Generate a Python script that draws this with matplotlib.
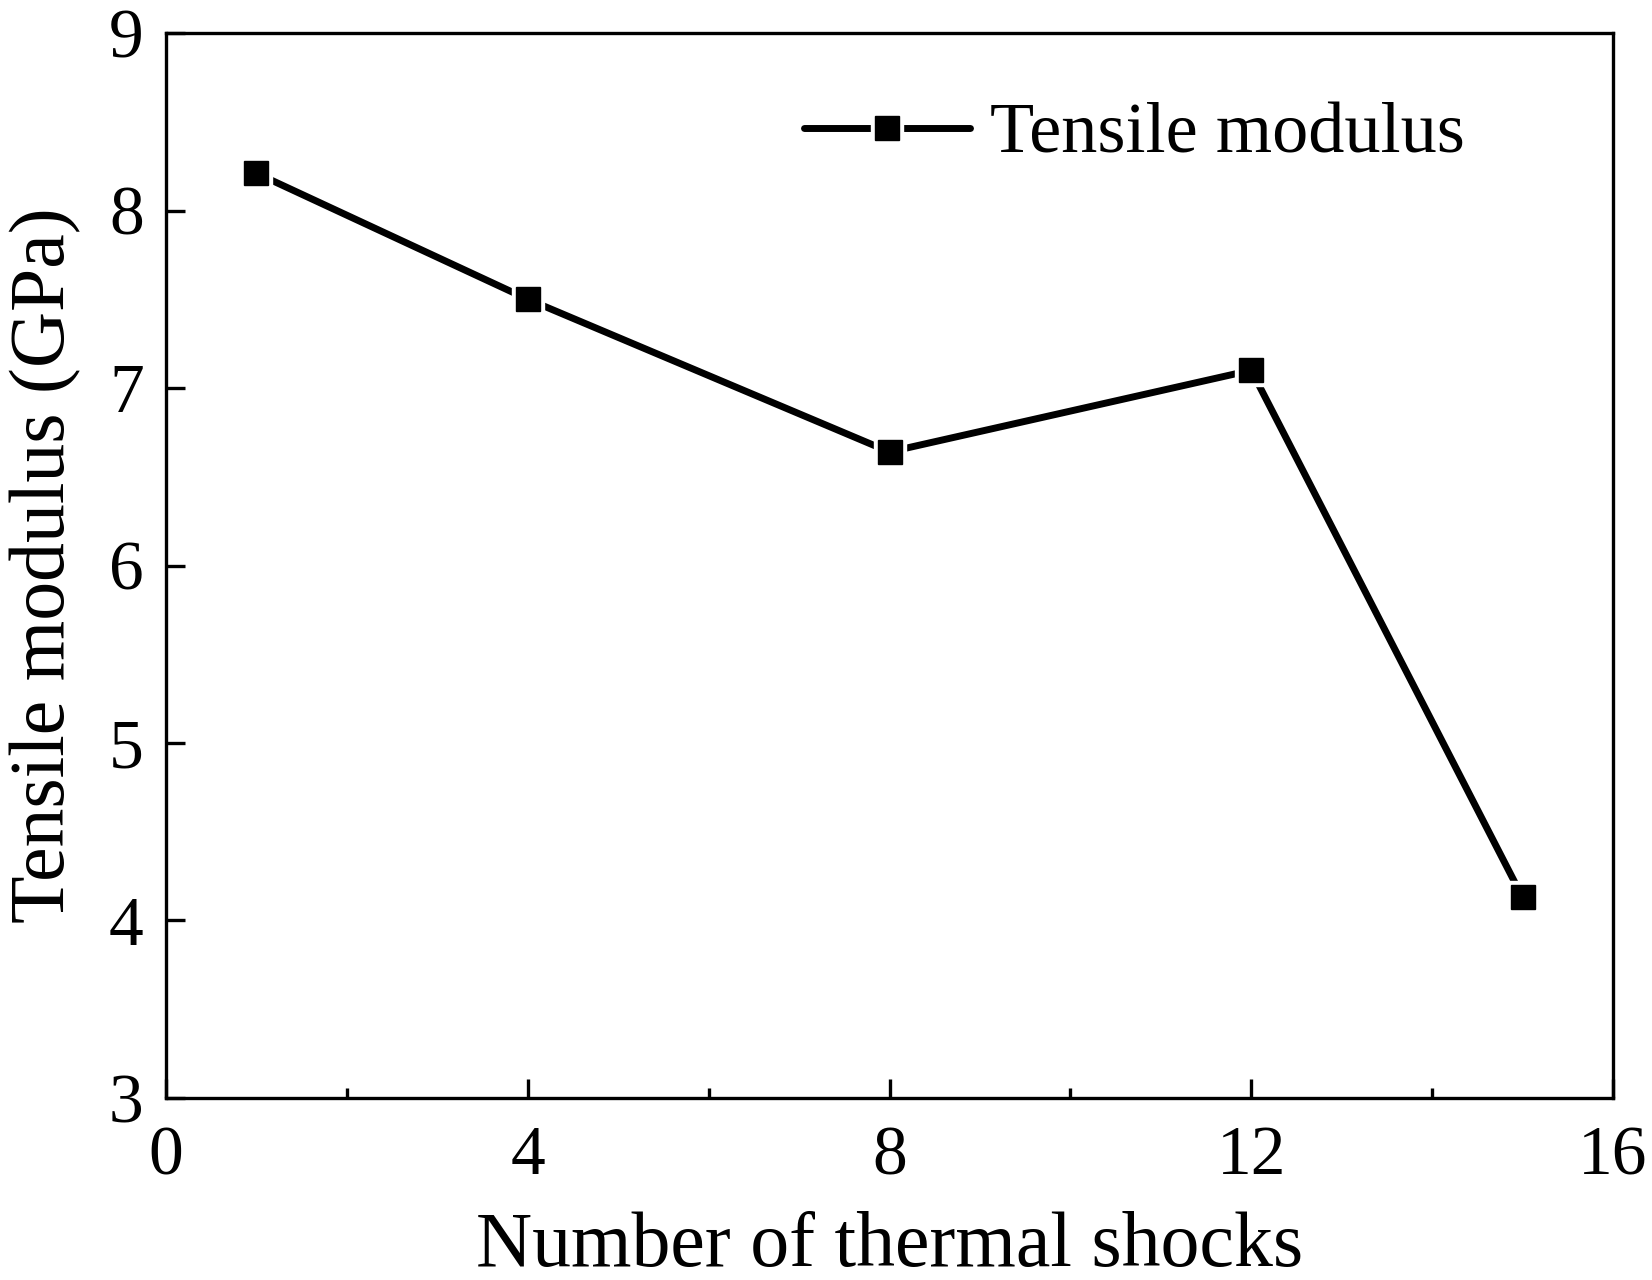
import matplotlib
matplotlib.use("Agg")
import matplotlib.pyplot as plt
from matplotlib.legend_handler import HandlerTuple
from matplotlib.ticker import MultipleLocator

shocks = [1, 4, 8, 12, 15]
modulus = [8.21, 7.50, 6.64, 7.10, 4.13]
series_label = "Tensile modulus"
xlabel = "Number of thermal shocks"
ylabel = "Tensile modulus (GPa)"

plt.rcParams['font.family'] = ['Liberation Serif', 'DejaVu Serif']
plt.rcParams['mathtext.fontset'] = 'stix'

fig = plt.figure(figsize=(16.52, 12.8), dpi=100)
ax = fig.add_axes([0.1005, 0.1422, 0.8759, 0.832])

ln, = ax.plot(shocks, modulus, color='black', lw=5, solid_capstyle='round', zorder=2)
wm, = ax.plot(shocks, modulus, ls='none', marker='s', ms=23, mfc='white', mec='white', zorder=3)
bm, = ax.plot(shocks, modulus, ls='none', marker='s', ms=17, mfc='black', mec='black', zorder=4)

ax.set_xlim(0, 16)
ax.set_ylim(3, 9)
ax.xaxis.set_major_locator(MultipleLocator(4))
ax.xaxis.set_minor_locator(MultipleLocator(2))
ax.yaxis.set_major_locator(MultipleLocator(1))

for s in ax.spines.values():
    s.set_linewidth(2.4)
ax.tick_params(axis='both', which='major', direction='in', length=14, width=2.4,
               labelsize=50)
ax.tick_params(axis='x', which='major', pad=20)
ax.tick_params(axis='y', which='major', pad=16)
ax.tick_params(axis='x', which='minor', direction='in', length=7, width=2.4)
ax.tick_params(axis='y', which='minor', left=False)

ax.set_xlabel(xlabel, fontsize=56, labelpad=16)
ax.set_ylabel(ylabel, fontsize=56, labelpad=20)

leg = ax.legend([(ln, wm, bm)], [series_label],
                handler_map={tuple: HandlerTuple(ndivide=1)},
                loc='upper left', bbox_to_anchor=(0.421, 0.962), frameon=False,
                fontsize=52, handlelength=2.3, handletextpad=0.28, borderaxespad=0)

fig.savefig("out.png", dpi=100)
